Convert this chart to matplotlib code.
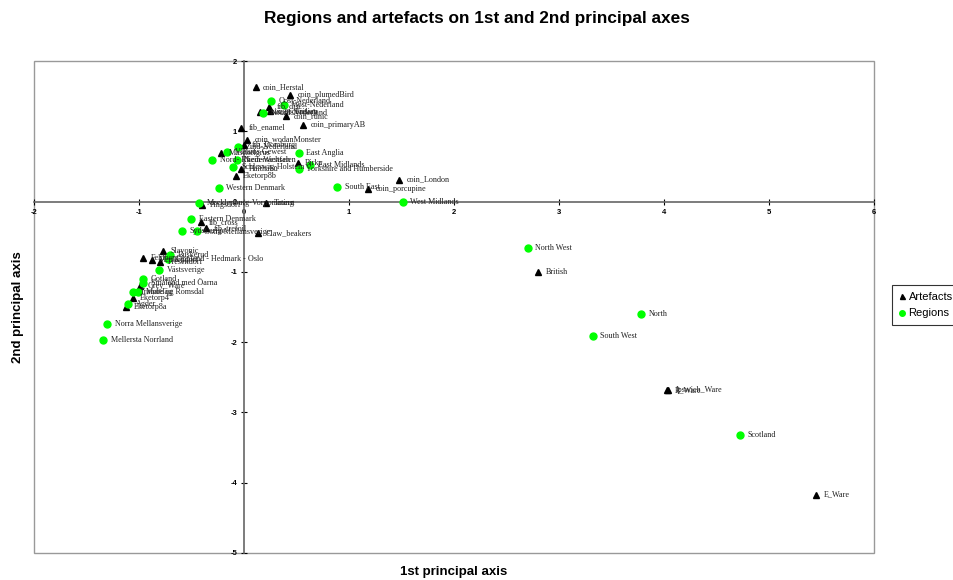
import matplotlib
matplotlib.use("Agg")
import matplotlib.pyplot as plt
from matplotlib.patches import Rectangle

plt.rcParams["axes.unicode_minus"] = False

# artefact types (triangles)
art_names = ["coin_Herstal", "coin_plumedBird", "fib_disc", "coin_secondary", "coin_Frisian",
             "coin_runic", "fib_enamel", "coin_primaryAB", "coin_wodanMonster", "fib_Domburg",
             "Muschelgrus", "Haithabu", "Birka", "Eketorp8b", "coin_London", "coin_porcupine",
             "Pingsdorf", "Tating", "fib_cross", "fib_trefoil", "Claw_beakers", "Slavonic",
             "Feldberg", "Menkendorf", "Fresendorf", "Grey_Ware", "Eketorp4", "Eketorp8a",
             "British", "B_Ware", "Ipswich_Ware", "E_Ware"]
art_x = [0.11, 0.44, 0.24, 0.15, 0.25, 0.40, -0.03, 0.56, 0.03, 0.00,
         -0.22, -0.03, 0.51, -0.08, 1.48, 1.18, -0.40, 0.21, -0.41, -0.36,
         0.13, -0.77, -0.96, -0.88, -0.80, -0.99, -1.06, -1.12, 2.80, 4.03,
         4.04, 5.45]
art_y = [1.63, 1.52, 1.35, 1.27, 1.29, 1.22, 1.05, 1.09, 0.88, 0.81,
         0.69, 0.46, 0.55, 0.36, 0.31, 0.18, -0.05, -0.02, -0.29, -0.38,
         -0.45, -0.70, -0.80, -0.83, -0.86, -1.20, -1.37, -1.50, -1.00, -2.68,
         -2.68, -4.17]

# regions (green dots)
reg_names = ["Oost-Nederland", "West-Nederland", "Noord-Nederland", "Zuid-Nederland",
             "Vlaams Gewest", "East Anglia", "Nord- Rhein-Westfalen", "Niedersachsen",
             "Schleswig-Holstein", "Yorkshire and Humberside", "East Midlands",
             "Western Denmark", "South East", "West Midlands", "Mecklenburg-Vorpommern",
             "Eastern Denmark", "Sydsverige", "Östra Mellansverige", "Buskerud",
             "Oppland - Hedmark - Oslo", "Västsverige", "Gotland", "Småland med Öarna",
             "Trøndelag", "Møre og Romsdal", "Agder", "Norra Mellansverige",
             "Mellersta Norrland", "North West", "North", "South West", "Scotland"]
reg_x = [0.26, 0.38, 0.18, -0.06, -0.16, 0.52, -0.30, -0.07, -0.10, 0.52,
         0.63, -0.24, 0.89, 1.51, -0.43, -0.50, -0.59, -0.45, -0.70, -0.72,
         -0.81, -0.96, -0.96, -1.06, -1.01, -1.10, -1.30, -1.34, 2.70, 3.78,
         3.32, 4.72]
reg_y = [1.43, 1.37, 1.26, 0.78, 0.71, 0.69, 0.59, 0.59, 0.49, 0.46,
         0.52, 0.19, 0.21, 0.00, -0.02, -0.25, -0.42, -0.42, -0.76, -0.82,
         -0.97, -1.10, -1.16, -1.28, -1.28, -1.46, -1.74, -1.97, -0.66, -1.60,
         -1.91, -3.32]

fig = plt.figure(figsize=(9.54, 5.8), dpi=100)
ax = fig.add_axes([0.0356, 0.0466, 0.8806, 0.8482])

ax.plot(art_x, art_y, "^", color="black", markersize=4.5, linestyle="none",
        label="Artefacts", zorder=3)
ax.plot(reg_x, reg_y, "o", color="#00ff00", markersize=5, linestyle="none",
        label="Regions", zorder=3)

lab_font = dict(family="Liberation Serif", fontsize=5.9, color="#222222",
                va="center", ha="left")
for name, x, y in zip(art_names, art_x, art_y):
    ax.annotate(name, (x, y), xytext=(5.5, 0), textcoords="offset points", **lab_font)
for name, x, y in zip(reg_names, reg_x, reg_y):
    ax.annotate(name, (x, y), xytext=(5.5, 0), textcoords="offset points", **lab_font)

ax.set_xlim(-2, 6)
ax.set_ylim(-5, 2)
ax.set_xticks(range(-2, 7))
ax.set_yticks(range(-5, 3))

# axes crossing at the origin, grey frame around the plot area
ax.spines["left"].set_position("zero")
ax.spines["bottom"].set_position("zero")
ax.spines["top"].set_visible(False)
ax.spines["right"].set_visible(False)
for s in ("left", "bottom"):
    ax.spines[s].set_color("#666666")
    ax.spines[s].set_linewidth(1.2)
ax.add_patch(Rectangle((0, 0), 1, 1, transform=ax.transAxes, fill=False,
                       edgecolor="#999999", linewidth=1.0, clip_on=False))
ax.tick_params(direction="inout", length=4, width=0.8, colors="black",
               labelsize=5.5, pad=3)
for t in ax.get_xticklabels() + ax.get_yticklabels():
    t.set_fontweight("bold")
    t.set_family("Liberation Sans")

fig.text(0.5, 0.968, "Regions and artefacts on 1st and 2nd principal axes",
         ha="center", va="center", fontsize=12.4, fontweight="bold",
         family="Liberation Sans")
fig.text(0.476, 0.014, "1st principal axis", ha="center", va="center",
         fontsize=9.5, fontweight="bold", family="Liberation Sans")
fig.text(0.019, 0.47, "2nd principal axis", ha="center", va="center",
         rotation=90, fontsize=9.5, fontweight="bold", family="Liberation Sans")

leg = fig.legend(loc="center left", bbox_to_anchor=(0.929, 0.474),
                 prop={"family": "Liberation Sans", "size": 8},
                 frameon=True, fancybox=False, edgecolor="black",
                 handlelength=0.6, handletextpad=0.3, borderpad=0.6,
                 labelspacing=0.6, markerscale=0.8)
leg.get_frame().set_linewidth(0.8)

fig.savefig("out.png", dpi=100)
